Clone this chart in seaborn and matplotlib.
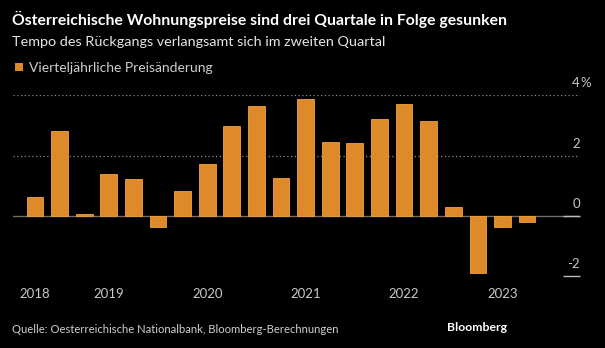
import matplotlib
matplotlib.use("Agg")
import matplotlib.pyplot as plt
import matplotlib.transforms as mtransforms
import seaborn as sns
import pandas as pd

# Quarterly change of Austrian residential property prices, Q2 2018 .. Q2 2023
quarters = [f"{y} Q{q}" for y in range(2018, 2024) for q in range(1, 5)][1:22]
price_change = [0.62, 2.82, 0.05, 1.38, 1.21, -0.36, 0.83, 1.72, 2.99, 3.63,
                1.26, 3.88, 2.45, 2.40, 3.21, 3.72, 3.15, 0.30, -1.91, -0.37, -0.21]
year_labels = ["2018", "2019", "2020", "2021", "2022", "2023"]
year_tick_quarters = ["2018 Q2", "2019 Q1", "2020 Q1", "2021 Q1", "2022 Q1", "2023 Q1"]
y_ticks = [-2, 0, 2, 4]

title = "Österreichische Wohnungspreise sind drei Quartale in Folge gesunken"
subtitle = "Tempo des Rückgangs verlangsamt sich im zweiten Quartal"
legend_label = "Vierteljährliche Preisänderung"
source = "Quelle: Oesterreichische Nationalbank, Bloomberg-Berechnungen"

BAR = "#DE8A2A"
BAR_EDGE = "#F2A23E"
BG = "#000000"

sns.set_theme(style="dark")
plt.rcParams["font.family"] = ["Lato", "DejaVu Sans"]

W, H = 605, 348
fig = plt.figure(figsize=(W / 100, H / 100), dpi=100, facecolor=BG)


def px(x, y):
    return x / W, 1 - y / H


# axes box in pixel space: x 13..580, y 95..276
ax = fig.add_axes([13 / W, (H - 276) / H, (580 - 13) / W, (276 - 95.3) / H])
ax.set_facecolor(BG)

df = pd.DataFrame({"quarter": quarters, "change": price_change})
sns.barplot(data=df, x="quarter", y="change", color=BAR, saturation=1,
            width=0.68, edgecolor=BAR_EDGE, linewidth=0.6, ax=ax, zorder=3)

ax.set_xlim(-0.894, 22.15)
ax.set_ylim(-2, 4)
for s in ax.spines.values():
    s.set_visible(False)
ax.set_xlabel("")
ax.set_ylabel("")

# gridlines and zero line
for v in [2, 4]:
    ax.axhline(v, color="#8a8a8a", lw=0.9, ls=(0, (1, 2)), zorder=1)
ax.axhline(0, color="#6e6e6e", lw=1.0, zorder=2)

# short marks at the right end for 0 and -2
trans = mtransforms.blended_transform_factory(ax.transAxes, ax.transData)
x0 = (563 - 13) / (580 - 13)
for v in [0, -2]:
    ax.plot([x0, 1], [v, v], color="#bdbdbd", lw=1.0, transform=trans,
            clip_on=False, zorder=4, solid_capstyle="butt")

# y labels sitting above each line, right aligned
ax.set_yticks([])
for v in y_ticks:
    lbl = str(v)
    ax.text(1.0, v, lbl, transform=trans + mtransforms.ScaledTranslation(0, 8 / 100, fig.dpi_scale_trans),
            ha="right", va="baseline", color="#c8c8c8", fontsize=9.5)
    if v == 4:
        ax.text(1.0, v, "%", transform=trans + mtransforms.ScaledTranslation(0.5 / 100, 8 / 100, fig.dpi_scale_trans),
                ha="left", va="baseline", color="#c8c8c8", fontsize=9.5)

# year ticks
pos = [quarters.index(q) for q in year_tick_quarters]
ax.set_xticks(pos)
ax.set_xticklabels(year_labels, color="#c8c8c8", fontsize=9.5)
ax.tick_params(axis="x", length=3.5, width=1.0, color="#bdbdbd", pad=5, direction="out")
ax.tick_params(axis="y", length=0)
ax.grid(False)

# header
fig.text(*px(12, 24.5), title, color="white", fontsize=11.3, fontweight="bold", va="baseline")
fig.text(*px(12, 46), subtitle, color="#e6e6e6", fontsize=10.4, va="baseline")
fig.patches.append(plt.Rectangle(px(15, 70.5), 7.5 / W, 7.5 / H, transform=fig.transFigure,
                                 facecolor=BAR, edgecolor="none"))
fig.text(*px(29, 71.7), legend_label, color="#cfcfcf", fontsize=10.0, va="baseline")

# footer
fig.text(*px(12, 333.3), source, color="#cfcfcf", fontsize=8.1, va="baseline")
fig.text(*px(507, 330.7), "Bloomberg", color="white", fontsize=8.8, fontweight="bold",
         ha="right", va="baseline")

fig.savefig("out.png", dpi=100, facecolor=BG)
